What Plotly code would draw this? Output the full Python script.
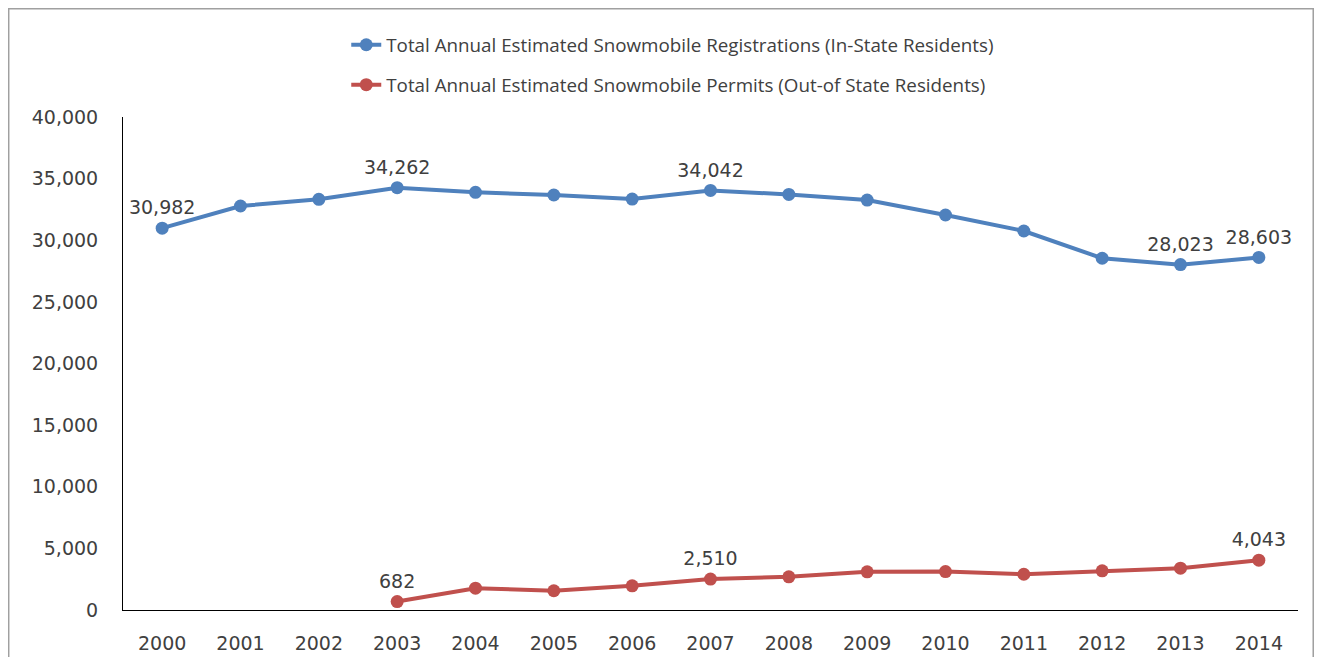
import plotly.graph_objects as go

years = [str(y) for y in range(2000, 2015)]
registrations = [30982, 32780, 33320, 34262, 33890, 33670, 33340, 34042,
                 33720, 33260, 32050, 30750, 28540, 28023, 28603]
permit_years = [str(y) for y in range(2003, 2015)]
permits = [682, 1770, 1560, 1960, 2510, 2690, 3100,
           3120, 2900, 3180, 3390, 4043]
reg_labeled = {"2000", "2003", "2007", "2013", "2014"}
perm_labeled = {"2003", "2007", "2014"}

reg_name = "Total Annual Estimated Snowmobile Registrations (In-State Residents)"
perm_name = "Total Annual Estimated Snowmobile Permits (Out-of State Residents)"

def labels(xs, vals, keep):
    return [f"{v:,}" if y in keep else "" for y, v in zip(xs, vals)]

BLUE = "#4F81BD"
RED = "#C0504D"
TXT = "#404040"
LBL_FONT = dict(family="DejaVu Sans", size=19, color=TXT)

fig = go.Figure()
fig.add_trace(go.Scatter(
    x=years, y=registrations, name=reg_name, mode="lines+markers+text",
    line=dict(color=BLUE, width=4), marker=dict(color=BLUE, size=13),
    text=labels(years, registrations, reg_labeled), textposition="top center",
    textfont=LBL_FONT, cliponaxis=False, legend="legend"))
fig.add_trace(go.Scatter(
    x=permit_years, y=permits, name=perm_name, mode="lines+markers+text",
    line=dict(color=RED, width=4), marker=dict(color=RED, size=13),
    text=labels(permit_years, permits, perm_labeled), textposition="top center",
    textfont=LBL_FONT, cliponaxis=False, legend="legend2"))

legend_font = dict(family="Open Sans", size=18.8, color=TXT)
fig.update_layout(
    width=1306, height=649,
    margin=dict(l=115, r=16, t=109, b=47, autoexpand=False),
    paper_bgcolor="white", plot_bgcolor="white",
    showlegend=True,
    legend=dict(x=0.19, y=1.146, xanchor="left", yanchor="middle",
                font=legend_font, bgcolor="rgba(0,0,0,0)"),
    legend2=dict(x=0.19, y=1.065, xanchor="left", yanchor="middle",
                 font=legend_font, bgcolor="rgba(0,0,0,0)"),
    xaxis=dict(type="category", categoryorder="array", categoryarray=years,
               range=[-0.5, len(years) - 0.5], showgrid=False, showline=True,
               linecolor="#000000", linewidth=1, ticks="",
               tickfont=LBL_FONT, ticklabelstandoff=16, zeroline=False),
    yaxis=dict(range=[0, 40000], dtick=5000, tickformat=",d", showgrid=False,
               showline=True, linecolor="#000000", linewidth=1, ticks="",
               tickfont=LBL_FONT, ticklabelstandoff=20, zeroline=False),
    shapes=[dict(type="rect", xref="paper", yref="paper",
                 x0=-0.0979, x1=1.0136, y0=-0.3, y1=1.2211,
                 line=dict(color="#A0A0A0", width=3), fillcolor="rgba(0,0,0,0)",
                 layer="below")],
)

fig.write_html("out.html")
